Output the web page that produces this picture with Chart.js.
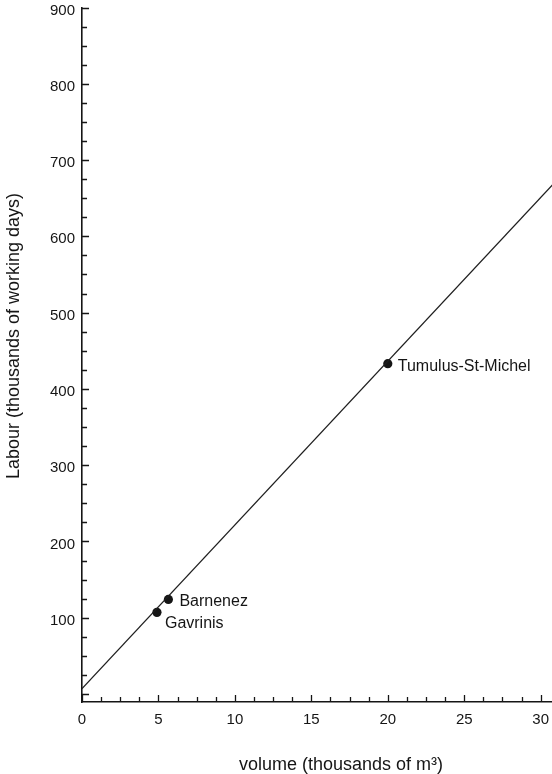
<!DOCTYPE html>
<html>
<head>
<meta charset="utf-8">
<script src="https://cdn.jsdelivr.net/npm/chart.js@4.4.1/dist/chart.umd.min.js"></script>
<style>
html, body { margin: 0; padding: 0; background: #ffffff; overflow: hidden; width: 552px; height: 774px; }
#wrap { width: 552px; height: 774px; position: relative; overflow: hidden; }
#c { display: block; position: absolute; left: 0; top: -7px; }
</style>
</head>
<body>
<div id="wrap"><canvas id="c" width="559" height="781" style="width:559px;height:781px"></canvas></div>
<script>
// ---- data ----
const sites = ['Gavrinis', 'Barnenez', 'Tumulus-St-Michel'];
const volume = [4.9, 5.65, 20.0];          // thousands of m3
const labour = [107, 124, 433];            // thousands of working days
const fitVolume = [0, 30.8];               // fitted line end points (x)
const fitLabour = [7, 668];                // fitted line end points (y)
const xTickLabels = [0, 5, 10, 15, 20, 25, 30];
const yTickLabels = [100, 200, 300, 400, 500, 600, 700, 800, 900];
const xTitle = 'volume (thousands of m³)';
const yTitle = 'Labour (thousands of working days)';

// ---- styles ----
const FONT = '"Liberation Sans", Arial, Helvetica, sans-serif';
const INK = '#151515';

const inwardTicks = {
  id: 'inwardTicks',
  afterDraw(chart, args, o) {
    const { ctx, chartArea: a, scales: { x, y } } = chart;
    ctx.save();
    ctx.strokeStyle = o.color;
    ctx.lineWidth = o.width;
    ctx.beginPath();
    for (let i = 0; ; i++) {
      const v = i * o.xMinor;
      if (v > x.max + 1e-9) break;
      const px = Math.round(x.getPixelForValue(v)) + 0.5;
      const len = (Math.abs(v % o.xMajor) < 1e-9) ? o.majorLen : o.minorLen;
      ctx.moveTo(px, a.bottom);
      ctx.lineTo(px, a.bottom - len);
    }
    for (let i = 0; ; i++) {
      const v = i * o.yMinor;
      if (v > y.max + 1e-9) break;
      const py = Math.round(y.getPixelForValue(v)) + 0.5;
      const len = (Math.abs(v % o.yMajor) < 1e-9) ? o.majorLen : o.minorLen;
      ctx.moveTo(a.left, py);
      ctx.lineTo(a.left + len, py);
    }
    ctx.stroke();
    ctx.restore();
  }
};

const pointLabels = {
  id: 'pointLabels',
  afterDatasetsDraw(chart, args, o) {
    const { ctx } = chart;
    const meta = chart.getDatasetMeta(o.datasetIndex);
    ctx.save();
    ctx.font = o.font;
    ctx.fillStyle = o.color;
    ctx.textAlign = 'left';
    ctx.textBaseline = 'middle';
    meta.data.forEach((el, i) => {
      const off = o.offsets[i] || o.defaultOffset;
      ctx.fillText(sites[i], el.x + off[0], el.y + off[1]);
    });
    ctx.restore();
  }
};

const axisTitles = {
  id: 'axisTitles',
  afterDraw(chart, args, o) {
    const { ctx } = chart;
    ctx.save();
    ctx.font = o.font;
    ctx.fillStyle = o.color;
    ctx.textAlign = 'center';
    ctx.textBaseline = 'alphabetic';
    ctx.fillText(xTitle, o.x.cx, o.x.baseline);
    ctx.translate(o.y.baseline, o.y.cy);
    ctx.rotate(-Math.PI / 2);
    ctx.fillText(yTitle, 0, 0);
    ctx.restore();
  }
};

new Chart(document.getElementById('c'), {
  type: 'scatter',
  data: {
    datasets: [
      {
        label: 'fit',
        data: fitVolume.map((v, i) => ({ x: v, y: fitLabour[i] })),
        showLine: true,
        borderColor: '#1e1e1e',
        borderWidth: 1.3,
        pointRadius: 0,
        fill: false
      },
      {
        label: 'sites',
        data: volume.map((v, i) => ({ x: v, y: labour[i] })),
        showLine: false,
        pointRadius: 4.6,
        pointBackgroundColor: INK,
        pointBorderWidth: 0
      }
    ]
  },
  options: {
    responsive: false,
    devicePixelRatio: 1,
    animation: false,
    events: [],
    layout: { autoPadding: false, padding: { top: 1, left: 43, right: 0, bottom: 37 } },
    plugins: {
      legend: { display: false },
      tooltip: { enabled: false },
      inwardTicks: { color: INK, width: 1.3, xMinor: 1.25, xMajor: 5, yMinor: 25, yMajor: 100, majorLen: 7, minorLen: 5 },
      pointLabels: {
        datasetIndex: 1,
        font: '16px ' + FONT,
        color: INK,
        defaultOffset: [10, 2],
        offsets: [[8, 11], [11, 2], [10, 3]]
      },
      axisTitles: {
        font: '18px ' + FONT,
        color: INK,
        x: { cx: 341, baseline: 777 },
        y: { cy: 343, baseline: 18.5 }
      }
    },
    scales: {
      x: {
        type: 'linear',
        min: 0,
        max: 30.8,
        grid: { display: false, drawTicks: false },
        border: { display: true, color: INK, width: 1.4 },
        ticks: {
          autoSkip: false,
          maxRotation: 0,
          padding: 10,
          color: INK,
          font: { family: FONT, size: 15, lineHeight: 1 },
          callback: (v) => String(v)
        },
        afterBuildTicks: (scale) => {
          scale.ticks = xTickLabels.map((v) => ({ value: v }));
        },
        title: { display: false }
      },
      y: {
        type: 'linear',
        min: -10.5,
        max: 900,
        grid: { display: false, drawTicks: false },
        border: { display: true, color: INK, width: 1.6 },
        ticks: {
          autoSkip: false,
          padding: 7,
          labelOffset: 3,
          color: INK,
          font: { family: FONT, size: 15, lineHeight: 1 },
          callback: (v) => String(v)
        },
        afterBuildTicks: (scale) => {
          scale.ticks = yTickLabels.map((v) => ({ value: v }));
        },
        title: { display: false }
      }
    }
  },
  plugins: [inwardTicks, pointLabels, axisTitles]
});
</script>
</body>
</html>
